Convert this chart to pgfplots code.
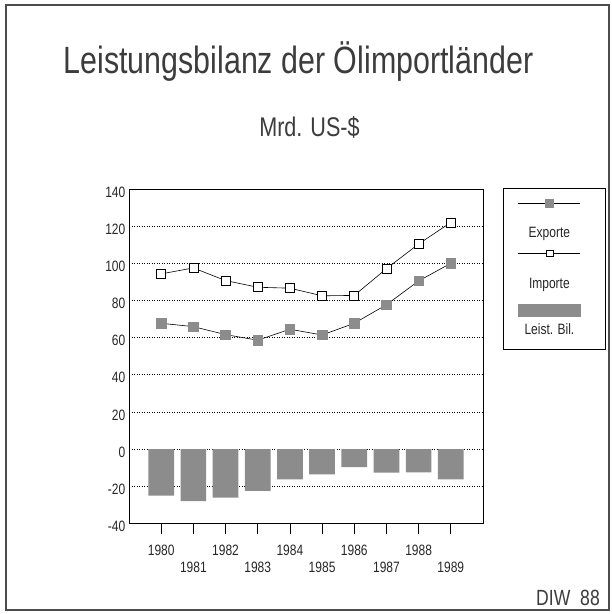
\documentclass[border=0pt]{standalone}
\usepackage{pgfplots}
\pgfplotsset{compat=1.18}
\usepackage{fontspec}
\setmainfont{Liberation Sans}[FakeStretch=0.8]
\definecolor{bargray}{RGB}{140,140,140}
\definecolor{txt}{RGB}{60,60,60}
\begin{document}
\begin{tikzpicture}
\useasboundingbox (0pt,0pt) rectangle (612pt,-614pt);
\draw[black!70, line width=1.2pt] (6pt,-5pt) rectangle (609pt,-610pt);
\node[anchor=base, text=txt, font=\fontsize{38}{44}\selectfont, inner sep=0pt] at (298.5pt,-73pt) {Leistungsbilanz der Ölimportländer};
\node[anchor=base, text=txt, font=\fontsize{27}{32}\selectfont, inner sep=0pt] at (309.5pt,-136pt) {Mrd. US-\$};
\node[anchor=base east, text=txt, font=\fontsize{22}{26}\selectfont, inner sep=0pt] at (600pt,-605pt) {DIW\ \ 88};
\begin{axis}[
  at={(129pt,-523.3pt)}, anchor=south west,
  width=354pt, height=334.3pt, scale only axis,
  xmin=1979, xmax=1990, ymin=-40, ymax=140,
  ytick={-40,-20,...,140},
  xtick={1980,1982,1984,1986,1988},
  extra x ticks={1981,1983,1985,1987,1989},
  extra x tick style={x tick label style={yshift=-17pt}},
  x tick label style={yshift=-7pt},
  /pgf/number format/1000 sep={},
  /pgf/number format/assume math mode=true,
  ymajorgrids,
  major grid style={black, dash pattern=on 1pt off 1.5pt, line width=0.6pt},
  tick align=outside, major tick length=11pt, tick pos=left,
  xtick style={black, line width=0.8pt},
  ytick style={draw=none},
  tick label style={font=\fontsize{15}{18}\selectfont, text=black!85},
  yticklabel style={inner xsep=1.5pt, xshift=9pt, yshift=-3pt},
  axis line style={line width=0.8pt},
  legend style={at={(1.0565,1.003)}, anchor=north west, inner xsep=0pt, inner ysep=0pt,
    nodes={inner sep=0pt, text depth=0pt}, draw=black, line width=0.8pt, column sep=0pt},
]
\addplot[black, line width=0.6pt, mark=square*, mark size=4.8pt,
  mark options={fill=bargray, draw=bargray},
  legend image code/.code={
    \path[draw=none, fill=none] (0pt,0pt) rectangle (101pt,-53pt);
    \draw[black, line width=0.6pt] (15pt,-14pt) -- (77pt,-14pt);
    \node[draw=bargray, fill=bargray, minimum size=8pt, inner sep=0pt] at (46pt,-14pt) {};
    \node[font=\fontsize{15}{17}\selectfont, text=black!85] at (46pt,-43.5pt) {Exporte};
  }] coordinates {
  (1980,67.7) (1981,65.9) (1982,61.6) (1983,58.6) (1984,64.5)
  (1985,61.4) (1986,67.7) (1987,77.7) (1988,90.5) (1989,100)};
\addplot[black, line width=0.6pt, mark=square*, mark size=4.5pt,
  mark options={fill=white, draw=black, line width=0.6pt},
  legend image code/.code={
    \path[draw=none, fill=none] (0pt,0pt) rectangle (101pt,-52pt);
    \draw[black, line width=0.6pt] (15pt,-11pt) -- (77pt,-11pt);
    \node[draw=black, fill=white, line width=0.6pt, minimum width=7pt, minimum height=6pt, inner sep=0pt] at (46pt,-11pt) {};
    \node[font=\fontsize{15}{17}\selectfont, text=black!85] at (46pt,-41pt) {Importe};
  }] coordinates {
  (1980,94.3) (1981,97.5) (1982,90.7) (1983,87.1) (1984,86.6)
  (1985,82.5) (1986,82.7) (1987,97.1) (1988,110.4) (1989,122)};
\addplot[ybar, bar width=25.7pt, fill=bargray, draw=none,
  legend image code/.code={
    \path[draw=none, fill=none] (0pt,0pt) rectangle (101pt,-54pt);
    \fill[bargray] (15pt,-9pt) rectangle (78pt,-22pt);
    \node[font=\fontsize{15}{17}\selectfont, text=black!85] at (46pt,-34.5pt) {Leist. Bil.};
  }] coordinates {
  (1980,-25.1) (1981,-28.1) (1982,-26.2) (1983,-22.5) (1984,-16.3)
  (1985,-13.6) (1986,-9.7) (1987,-12.7) (1988,-12.6) (1989,-16.3)};
\legend{\mbox{},\mbox{},\mbox{}}
\end{axis}
\end{tikzpicture}
\end{document}
